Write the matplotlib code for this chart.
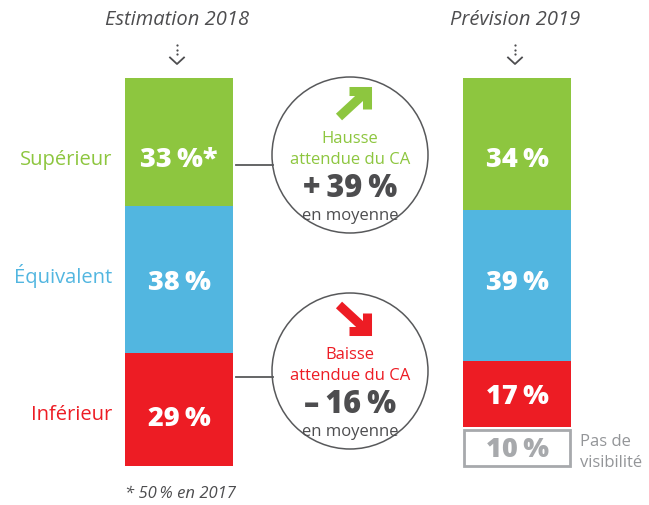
import matplotlib
matplotlib.use("Agg")
import matplotlib.pyplot as plt
import matplotlib.patches as mpatches
import numpy as np

plt.rcParams["font.family"] = ["Open Sans", "DejaVu Sans"]

# data
columns = ["Estimation 2018", "Prévision 2019"]
categories = ["Supérieur", "Équivalent", "Inférieur"]
est_2018 = [33, 38, 29]
prev_2019 = [34, 39, 17]
no_visibility_2019 = 10
est_labels = ["33\u2009%*", "38\u2009%", "29\u2009%"]
prev_labels = ["34\u2009%", "39\u2009%", "17\u2009%"]
hausse = "+\u200939\u2009%"
baisse = "–\u200916\u2009%"
footnote = "* 50\u2009% en 2017"

GREEN = "#8dc63f"
BLUE = "#52b6e0"
RED = "#ed1c24"
DARK = "#4d4d4f"
GREY = "#a7a9ac"
cat_colors = [GREEN, BLUE, RED]

W, H = 649, 505
fig = plt.figure(figsize=(W / 100, H / 100), dpi=100)

# bar axes: y in percent (0 at top), x in pixels
top_px, full_px = 78, 388
ax = fig.add_axes([0, (H - top_px - full_px) / H, 1, full_px / H])
ax.set_xlim(0, W)
ax.set_ylim(100, 0)
ax.axis("off")

x_left, x_right, bw = 179, 517, 108
bottoms = np.concatenate([[0], np.cumsum(est_2018)[:-1]])
ax.bar([x_left] * 3, est_2018, bottom=bottoms, width=bw, color=cat_colors,
       linewidth=0)
bottoms_r = np.concatenate([[0], np.cumsum(prev_2019)[:-1]])
ax.bar([x_right] * 3, prev_2019, bottom=bottoms_r, width=bw, color=cat_colors,
       linewidth=0)
gap = 0.6
box = ax.bar([x_right], [no_visibility_2019 - 0.9], bottom=sum(prev_2019) + gap + 0.25,
             width=bw - 2, fill=False, edgecolor=GREY, linewidth=2)
for p in box:
    p.set_clip_on(False)

# overlay axes in pixel coordinates
ov = fig.add_axes([0, 0, 1, 1])
ov.set_xlim(0, W)
ov.set_ylim(H, 0)
ov.axis("off")

def px(y_pct):
    return top_px + y_pct * full_px / 100

# column headers with dotted arrow
for xc, title in zip([x_left, x_right], columns):
    ov.text(xc - 2, 20, title, ha="center", va="center", fontsize=14.5,
            style="italic", color=DARK)
    ov.plot([xc - 2] * 3, [45, 49.5, 54], "o", ms=1.6, color=DARK, mec="none")
    ov.plot([xc - 9, xc - 2, xc + 5], [57.5, 64, 57.5], color=DARK, lw=1.3)

# category labels
label_y = [160, 276, 415]
for cat, c, y in zip(categories, cat_colors, label_y):
    ov.text(112, y, cat, ha="right", va="center", fontsize=14.5, color=c)

# value labels
val_y_left = [160, 283, 419]
for lab, y in zip(est_labels, val_y_left):
    ov.text(x_left, y, lab, ha="center", va="center", fontsize=19.5,
            fontweight="heavy", color="white")
val_y_right = [160, 283, 397]
for lab, y in zip(prev_labels, val_y_right):
    ov.text(x_right, y, lab, ha="center", va="center", fontsize=19.5,
            fontweight="heavy", color="white")
ov.text(x_right, px(sum(prev_2019) + gap + no_visibility_2019 / 2) + 1,
        f"{no_visibility_2019}\u2009%", ha="center", va="center", fontsize=19.5,
        fontweight="heavy", color=GREY)
ov.text(580, 442, "Pas de", ha="left", va="center", fontsize=12, color="#939598")
ov.text(580, 463, "visibilité", ha="left", va="center", fontsize=12, color="#939598")

# circles
def bubble(cy, line_y, color, word, value, up):
    cx, r = 350, 78
    ov.add_patch(mpatches.Circle((cx, cy), r, fill=False, ec="#58595b", lw=1.1))
    ov.plot([236, cx - r + 1], [line_y, line_y], color="#58595b", lw=1.3)
    kw = dict(color=color, lw=6.5, solid_capstyle="butt", solid_joinstyle="miter")
    if up:
        tip = (367, cy - 64)
        ov.plot([339, tip[0] - 2], [cy - 38, tip[1] + 2], **kw)
        ov.plot([tip[0] - 18, tip[0], tip[0]], [tip[1], tip[1], tip[1] + 18], **kw)
    else:
        tip = (367, cy - 40)
        ov.plot([339, tip[0] - 2], [cy - 66, tip[1] - 2], **kw)
        ov.plot([tip[0] - 18, tip[0], tip[0]], [tip[1], tip[1], tip[1] - 18], **kw)
    ov.text(cx, cy - 16, word, ha="center", va="center", fontsize=12, color=color)
    ov.text(cx, cy + 5, "attendue du CA", ha="center", va="center",
            fontsize=12, color=color)
    ov.text(cx, cy + 34, value, ha="center", va="center", fontsize=22,
            fontweight="heavy", color=DARK)
    ov.text(cx, cy + 61, "en moyenne", ha="center", va="center",
            fontsize=12, color=DARK)

bubble(155, 165, GREEN, "Hausse", hausse, True)
bubble(371, 377, RED, "Baisse", baisse, False)

ov.text(125, 494, footnote, ha="left", va="center", fontsize=12,
        style="italic", color=DARK)

fig.savefig("out.png", dpi=100)
